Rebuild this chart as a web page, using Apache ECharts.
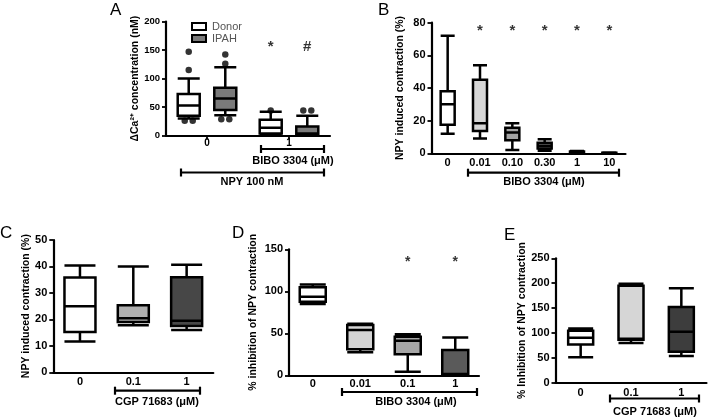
<!DOCTYPE html>
<html><head><meta charset="utf-8">
<script src="https://cdn.jsdelivr.net/npm/echarts@6/dist/echarts.min.js"></script>
<style>html,body{margin:0;padding:0;background:#fff}#c{width:709px;height:419px}</style>
</head><body><div id="c"></div>
<script>
// ---------- DATA ----------
// box values: [lowWhisker, Q1, median, Q3, highWhisker]
// Panel A
const aCategories = ['0', '1'];
const aSeriesNames = ['Donor', 'IPAH'];
const aDonor = [[30, 35, 53, 73, 100], [0, 4, 14, 28, 42]];
const aIPAH = [[36, 45, 65, 84, 120], [0, 1, 4, 16, 35]];
const aDonorOutliers = [['0', 147], ['0', 115], ['0', 26], ['0', 26], ['1', 44]];
const aIPAHOutliers = [['0', 142], ['0', 126], ['0', 29], ['0', 29], ['1', 44], ['1', 44]];
const aMarks = [['1', 'Donor', 155, '*'], ['1', 'IPAH', 155, '#']];
// Panel B
const bCategories = ['0', '0.01', '0.10', '0.30', '1', '10'];
const bValues = [[12, 17.5, 30, 38, 72], [9, 13.7, 18.4, 45, 54], [2, 8, 12.7, 15.6, 18.4], [1.5, 3, 4.7, 6.4, 8.6], [0.2, 0.5, 0.8, 1.1, 1.4], [0.1, 0.2, 0.3, 0.4, 0.5]];
const bMarks = [['0.01', 75, '*'], ['0.10', 75, '*'], ['0.30', 75, '*'], ['1', 75, '*'], ['10', 75, '*']];
// Panel C
const cCategories = ['0', '0.1', '1'];
const cValues = [[11.6, 15.2, 25, 35.8, 40.4], [17.8, 19, 20.4, 25.3, 40], [16, 17.5, 19.5, 35.9, 40.6]];
// Panel D
const dCategories = ['0', '0.01', '0.1', '1'];
const dValues = [[85, 87.6, 93.6, 104.7, 108], [27.4, 31, 54, 60, 61.5], [4.3, 25, 41, 46, 49], [0, 1, 1.5, 30, 45]];
const dMarks = [['0.1', 135, '*'], ['1', 135, '*']];
// Panel E
const eCategories = ['0', '0.1', '1'];
const eValues = [[51, 77, 90.5, 104.5, 109], [80, 86.5, 88.5, 195, 199], [53.6, 62.3, 102.5, 152, 189.7]];

// ---------- STYLE ----------
const FONT = '"Liberation Sans", Arial, Helvetica, sans-serif';
const INK = '#000000';
const LW = 2.2;
const BOX_LW = 2.5;
const bFills = ['#ffffff', '#d6d6d6', '#a2a2a2', '#8c8c8c', '#555555', '#333333'];
const cFills = ['#ffffff', '#b0b0b0', '#474747'];
const dFills = ['#ffffff', '#d4d4d4', '#a6a6a6', '#5a5a5a'];
const eFills = ['#ffffff', '#d6d6d6', '#3d3d3d'];
const aFills = { Donor: '#ffffff', IPAH: '#7a7a7a' };

const grids = [
  { left: 166, top: 21.5, width: 164, height: 114.2 },   // A
  { left: 431.5, top: 22.7, width: 194, height: 130.6 }, // B
  { left: 53.3, top: 240, width: 160, height: 132.3 },   // C
  { left: 289, top: 249.3, width: 190, height: 126 },    // D
  { left: 555.5, top: 258.3, width: 151, height: 124.4 } // E
];

function yAxis(gi, max, interval, name, gap, fs) {
  return {
    type: 'value', gridIndex: gi, min: 0, max: max, interval: interval,
    name: name, nameLocation: 'middle', nameGap: gap, nameRotate: 90,
    nameTextStyle: { fontFamily: FONT, fontWeight: 'bold', fontSize: 10.5, color: INK },
    axisLine: { show: true, lineStyle: { color: INK, width: LW } },
    axisTick: { show: true, length: 4, lineStyle: { color: INK, width: 1.8 } },
    axisLabel: { fontFamily: FONT, fontWeight: 'bold', fontSize: fs, color: INK, margin: 6 },
    splitLine: { show: false }
  };
}
function xAxis(gi, data, ticks, margin, fs) {
  return {
    type: 'category', gridIndex: gi, data: data,
    axisLine: { lineStyle: { color: INK, width: LW } },
    axisTick: { show: ticks, alignWithLabel: true, length: 4, lineStyle: { color: INK, width: 1.8 } },
    axisLabel: { fontFamily: FONT, fontWeight: 'bold', fontSize: fs, color: INK, margin: margin },
    splitLine: { show: false }
  };
}
function boxSeries(gi, values, fills, width, name) {
  return {
    type: 'boxplot', name: name, xAxisIndex: gi, yAxisIndex: gi, silent: true,
    boxWidth: [width, width],
    itemStyle: { color: '#fff', borderColor: INK, borderWidth: BOX_LW },
    emphasis: { disabled: true },
    data: values.map((v, i) => ({ value: v, itemStyle: { color: Array.isArray(fills) ? fills[i] : fills, borderColor: INK, borderWidth: BOX_LW } }))
  };
}
function markSeries(gi, marks, fs) {
  return {
    type: 'scatter', xAxisIndex: gi, yAxisIndex: gi, silent: true, symbol: 'circle', symbolSize: 1,
    itemStyle: { color: 'rgba(0,0,0,0)' },
    z: 10,
    data: marks.map(m => ({
      value: [m[0], m[1]],
      label: { show: true, formatter: m[2], position: 'inside', offset: [m[3] || 0, 0],
        fontFamily: FONT, fontWeight: 'bold', fontSize: fs, color: INK }
    }))
  };
}

// side-by-side offset for panel A (same as ECharts boxplot layout)
const aBand = grids[0].width / aCategories.length;
const aAvail = aBand * 0.8 - 2;
const aGap = aAvail / 2 * 0.3;
const aBoxW = (aAvail - aGap) / 2;
const aOffsets = { Donor: aBoxW / 2 - aAvail / 2, IPAH: aBoxW / 2 - aAvail / 2 + aGap + aBoxW };

function outlierData(list, name) {
  const counts = {};
  list.forEach(o => { const k = o[0] + '|' + o[1]; counts[k] = (counts[k] || 0) + 1; });
  const seen = {};
  return list.map(o => {
    const k = o[0] + '|' + o[1];
    const n = counts[k]; const i = seen[k] = (seen[k] === undefined ? 0 : seen[k] + 1);
    const spread = (i - (n - 1) / 2) * 8;
    return { value: [o[0], o[1]], symbolOffset: [aOffsets[name] + spread, 0] };
  });
}

const series = [
  boxSeries(0, aDonor, aFills.Donor, 22, 'Donor'),
  boxSeries(0, aIPAH, aFills.IPAH, 22, 'IPAH'),
  { type: 'scatter', xAxisIndex: 0, yAxisIndex: 0, silent: true, symbolSize: 6.5, itemStyle: { color: INK }, data: outlierData(aDonorOutliers, 'Donor') },
  { type: 'scatter', xAxisIndex: 0, yAxisIndex: 0, silent: true, symbolSize: 6.5, itemStyle: { color: INK }, data: outlierData(aIPAHOutliers, 'IPAH') },
  markSeries(0, aMarks.map(m => [m[0], m[2], m[3], aOffsets[m[1]]]), 15),
  boxSeries(1, bValues, bFills, 14),
  markSeries(1, bMarks, 15),
  boxSeries(2, cValues, cFills, 31),
  boxSeries(3, dValues, dFills, 26),
  markSeries(3, dMarks, 14),
  boxSeries(4, eValues, eFills, 25)
];

function bracket(x1, x2, y, label, tx, ty) {
  const ls = { stroke: INK, lineWidth: LW };
  return [
    { type: 'line', silent: true, shape: { x1: x1, y1: y, x2: x2, y2: y }, style: ls },
    { type: 'line', silent: true, shape: { x1: x1, y1: y - 4, x2: x1, y2: y + 4 }, style: ls },
    { type: 'line', silent: true, shape: { x1: x2, y1: y - 4, x2: x2, y2: y + 4 }, style: ls },
    { type: 'text', silent: true, x: tx, y: ty, style: { text: label, align: 'center', verticalAlign: 'middle',
      font: 'bold 11px ' + FONT, fill: INK } }
  ];
}
function letter(t, x, y) {
  return { type: 'text', silent: true, x: x, y: y, style: { text: t, font: '17px ' + FONT, fill: INK, align: 'left', verticalAlign: 'top' } };
}

const graphics = [].concat(
  bracket(261, 324, 149, 'BIBO 3304 (μM)', 293, 161),
  bracket(181, 324, 172.5, 'NPY 100 nM', 252, 182),
  bracket(468, 619, 172.7, 'BIBO 3304 (μM)', 544, 182),
  bracket(115, 200, 390.7, 'CGP 71683 (μM)', 157, 402),
  bracket(342, 477, 392, 'BIBO 3304 (μM)', 416, 402),
  bracket(610, 699, 398.5, 'CGP 71683 (μM)', 655, 412),
  [letter('A', 110, 2), letter('B', 378, 2), letter('C', 0, 225), letter('D', 232, 225), letter('E', 504, 227)]
);

const option = {
  animation: false,
  backgroundColor: '#ffffff',
  grid: grids.map(g => Object.assign({ containLabel: false }, g)),
  xAxis: [
    xAxis(0, aCategories, true, 3, 10),
    xAxis(1, bCategories, false, 4, 11),
    xAxis(2, cCategories, false, 4, 11),
    xAxis(3, dCategories, false, 3, 11),
    xAxis(4, eCategories, false, 5, 11)
  ],
  yAxis: [
    yAxis(0, 200, 50, 'ΔCa²⁺ concentration (nM)', 23, 9.5),
    yAxis(1, 80, 20, 'NPY induced contraction (%)', 26, 11),
    yAxis(2, 50, 10, 'NPY induced contraction (%)', 21, 11),
    yAxis(3, 150, 50, '% inhibition of NPY contraction', 30, 11),
    yAxis(4, 250, 50, '% Inhibition of NPY contraction', 26, 11)
  ],
  legend: {
    orient: 'vertical', left: 186, top: 16, itemGap: 1, itemWidth: 14, itemHeight: 7, icon: 'rect',
    selectedMode: false,
    textStyle: { fontFamily: FONT, fontSize: 11, color: '#555', padding: [0, 0, 0, 1] },
    data: [
      { name: 'Donor', itemStyle: { color: aFills.Donor, borderColor: INK, borderWidth: 2 } },
      { name: 'IPAH', itemStyle: { color: aFills.IPAH, borderColor: INK, borderWidth: 2 } }
    ]
  },
  series: series,
  graphic: graphics
};

const chart = echarts.init(document.getElementById('c'), null, { renderer: 'canvas' });
chart.setOption(option);
</script>
</body></html>
